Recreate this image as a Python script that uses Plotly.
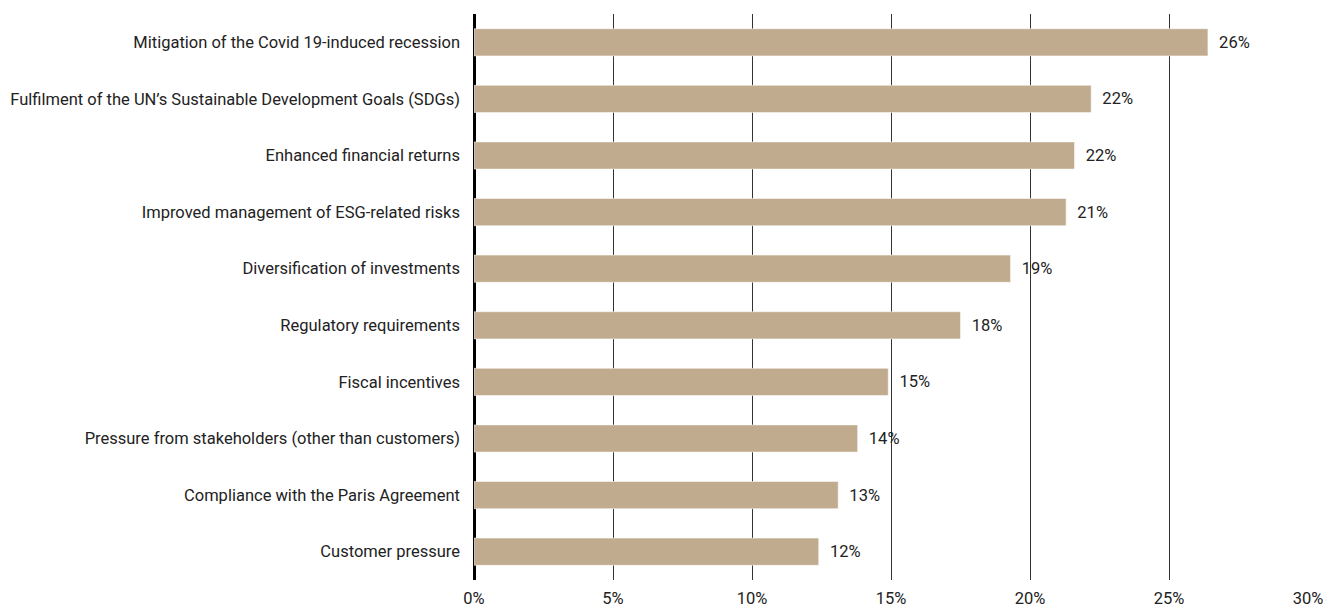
import plotly.graph_objects as go

# ----- Data -----
drivers = [
    "Mitigation of the Covid 19-induced recession",
    "Fulfilment of the UN’s Sustainable Development Goals (SDGs)",
    "Enhanced financial returns",
    "Improved management of ESG-related risks",
    "Diversification of investments",
    "Regulatory requirements",
    "Fiscal incentives",
    "Pressure from stakeholders (other than customers)",
    "Compliance with the Paris Agreement",
    "Customer pressure",
]
shares = [26.4, 22.2, 21.6, 21.3, 19.3, 17.5, 14.9, 13.8, 13.1, 12.4]
x_ticks = [0, 5, 10, 15, 20, 25, 30]
x_tick_labels = [f"{t}%" for t in x_ticks]

FONT = "Roboto, Liberation Sans, sans-serif"
SIZE = 16.5

fig = go.Figure(go.Bar(
    y=drivers,
    x=shares,
    orientation="h",
    marker=dict(color="#c1ab8e", line=dict(color="#ffffff", width=0.5)),
    text=[f"  {round(v)}%" for v in shares],
    textposition="outside",
    textfont=dict(size=SIZE, color="#222222", family=FONT),
    cliponaxis=False,
))

# page body has an 8px margin, so the margins are shifted to compensate
fig.update_layout(
    width=1331, height=608,
    margin=dict(l=466, r=31, t=6, b=36),
    plot_bgcolor="white", paper_bgcolor="white",
    bargap=0.52,
    showlegend=False,
    font=dict(family=FONT, size=SIZE, color="#222222"),
)
fig.update_xaxes(
    range=[0, 30], tickmode="array", tickvals=x_ticks, ticktext=x_tick_labels,
    showgrid=True, gridcolor="#333333", gridwidth=1,
    zeroline=True, zerolinecolor="#000000", zerolinewidth=3,
    showline=False, ticks="", automargin=False,
    ticklabelstandoff=6,
    tickfont=dict(size=SIZE, color="#222222"),
)
fig.update_yaxes(
    autorange="reversed", showgrid=False, showline=False, ticks="",
    ticklabelstandoff=13, automargin=False,
    tickfont=dict(size=SIZE, color="#222222"),
)

fig.write_html("out.html")
